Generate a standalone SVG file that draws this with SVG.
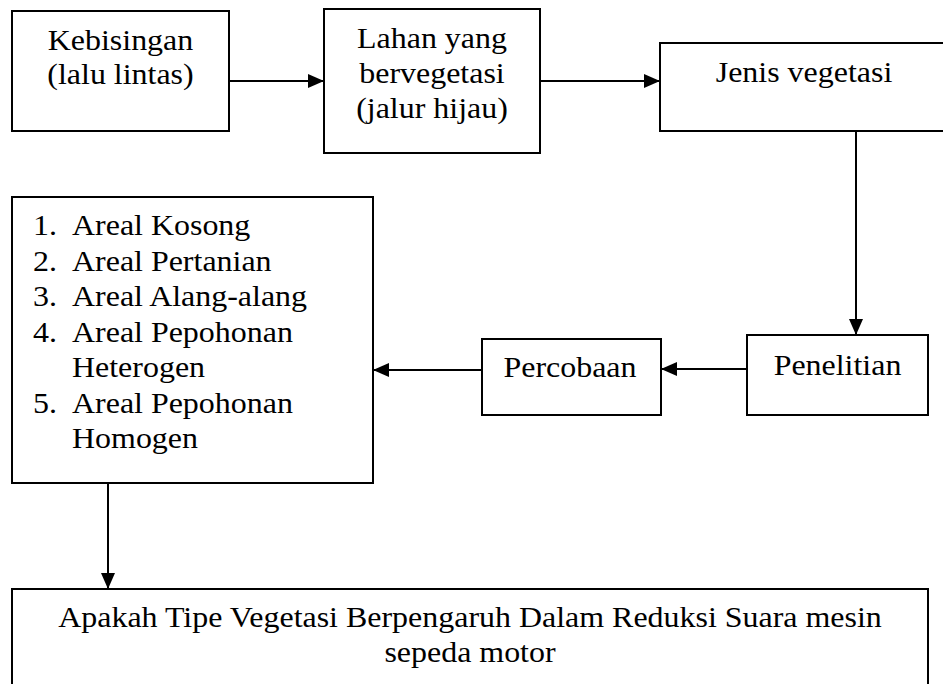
<svg xmlns="http://www.w3.org/2000/svg" width="943" height="684" viewBox="0 0 943 684">
<defs>
<style>
.box{fill:#fff;stroke:#000;stroke-width:2}
.t{font-family:"Liberation Serif","Times New Roman",serif;font-size:30px;fill:#000}
.c{text-anchor:middle}
.ln{stroke:#000;stroke-width:2;fill:none}
</style>
<marker id="ah" markerWidth="16" markerHeight="14" refX="16" refY="7" orient="auto" markerUnits="userSpaceOnUse">
<path d="M0,0 L16,7 L0,14 Z" fill="#000"/>
</marker>
</defs>
<rect width="943" height="684" fill="#fff"/>
<g id="connectors">
<line class="ln" x1="229" y1="81" x2="324" y2="81" marker-end="url(#ah)"/>
<line class="ln" x1="540" y1="81" x2="660" y2="81" marker-end="url(#ah)"/>
<line class="ln" x1="856" y1="131" x2="856" y2="335" marker-end="url(#ah)"/>
<line class="ln" x1="747" y1="369" x2="661" y2="369" marker-end="url(#ah)"/>
<line class="ln" x1="482" y1="370" x2="373" y2="370" marker-end="url(#ah)"/>
<line class="ln" x1="108" y1="483" x2="108" y2="589" marker-end="url(#ah)"/>
</g>
<g id="kebisingan">
<rect class="box" x="12" y="11" width="217" height="120"/>
<text class="t c" transform="translate(120.5,50) scale(1.065,1)">Kebisingan</text>
<text class="t c" transform="translate(120.5,84) scale(1.065,1)">(lalu lintas)</text>
</g>
<g id="lahan">
<rect class="box" x="324" y="9" width="216" height="144"/>
<text class="t c" transform="translate(432,48) scale(1.065,1)">Lahan yang</text>
<text class="t c" transform="translate(432,83) scale(1.065,1)">bervegetasi</text>
<text class="t c" transform="translate(432,118) scale(1.065,1)">(jalur hijau)</text>
</g>
<g id="jenis">
<rect class="box" x="660" y="43" width="300" height="88"/>
<text class="t c" transform="translate(804,82) scale(1.065,1)">Jenis vegetasi</text>
</g>
<g id="penelitian">
<rect class="box" x="747" y="335" width="181" height="80"/>
<text class="t c" transform="translate(837.5,375) scale(1.065,1)">Penelitian</text>
</g>
<g id="percobaan">
<rect class="box" x="482" y="339" width="179" height="76"/>
<text class="t c" transform="translate(570,377) scale(1.065,1)">Percobaan</text>
</g>
<g id="areal">
<rect class="box" x="12" y="197" width="361" height="286"/>
<text class="t" transform="translate(33,235) scale(1.065,1)">1.</text>
<text class="t" transform="translate(72,235) scale(1.065,1)">Areal Kosong</text>
<text class="t" transform="translate(33,271) scale(1.065,1)">2.</text>
<text class="t" transform="translate(72,271) scale(1.065,1)">Areal Pertanian</text>
<text class="t" transform="translate(33,306) scale(1.065,1)">3.</text>
<text class="t" transform="translate(72,306) scale(1.065,1)">Areal Alang-alang</text>
<text class="t" transform="translate(33,342) scale(1.065,1)">4.</text>
<text class="t" transform="translate(72,342) scale(1.065,1)">Areal Pepohonan</text>
<text class="t" transform="translate(72,377) scale(1.065,1)">Heterogen</text>
<text class="t" transform="translate(33,413) scale(1.065,1)">5.</text>
<text class="t" transform="translate(72,413) scale(1.065,1)">Areal Pepohonan</text>
<text class="t" transform="translate(72,448) scale(1.065,1)">Homogen</text>
</g>
<g id="apakah">
<rect class="box" x="12" y="589" width="916" height="130"/>
<text class="t c" transform="translate(470,627) scale(1.065,1)">Apakah Tipe Vegetasi Berpengaruh Dalam Reduksi Suara mesin</text>
<text class="t c" transform="translate(470,662) scale(1.065,1)">sepeda motor</text>
</g>
</svg>
